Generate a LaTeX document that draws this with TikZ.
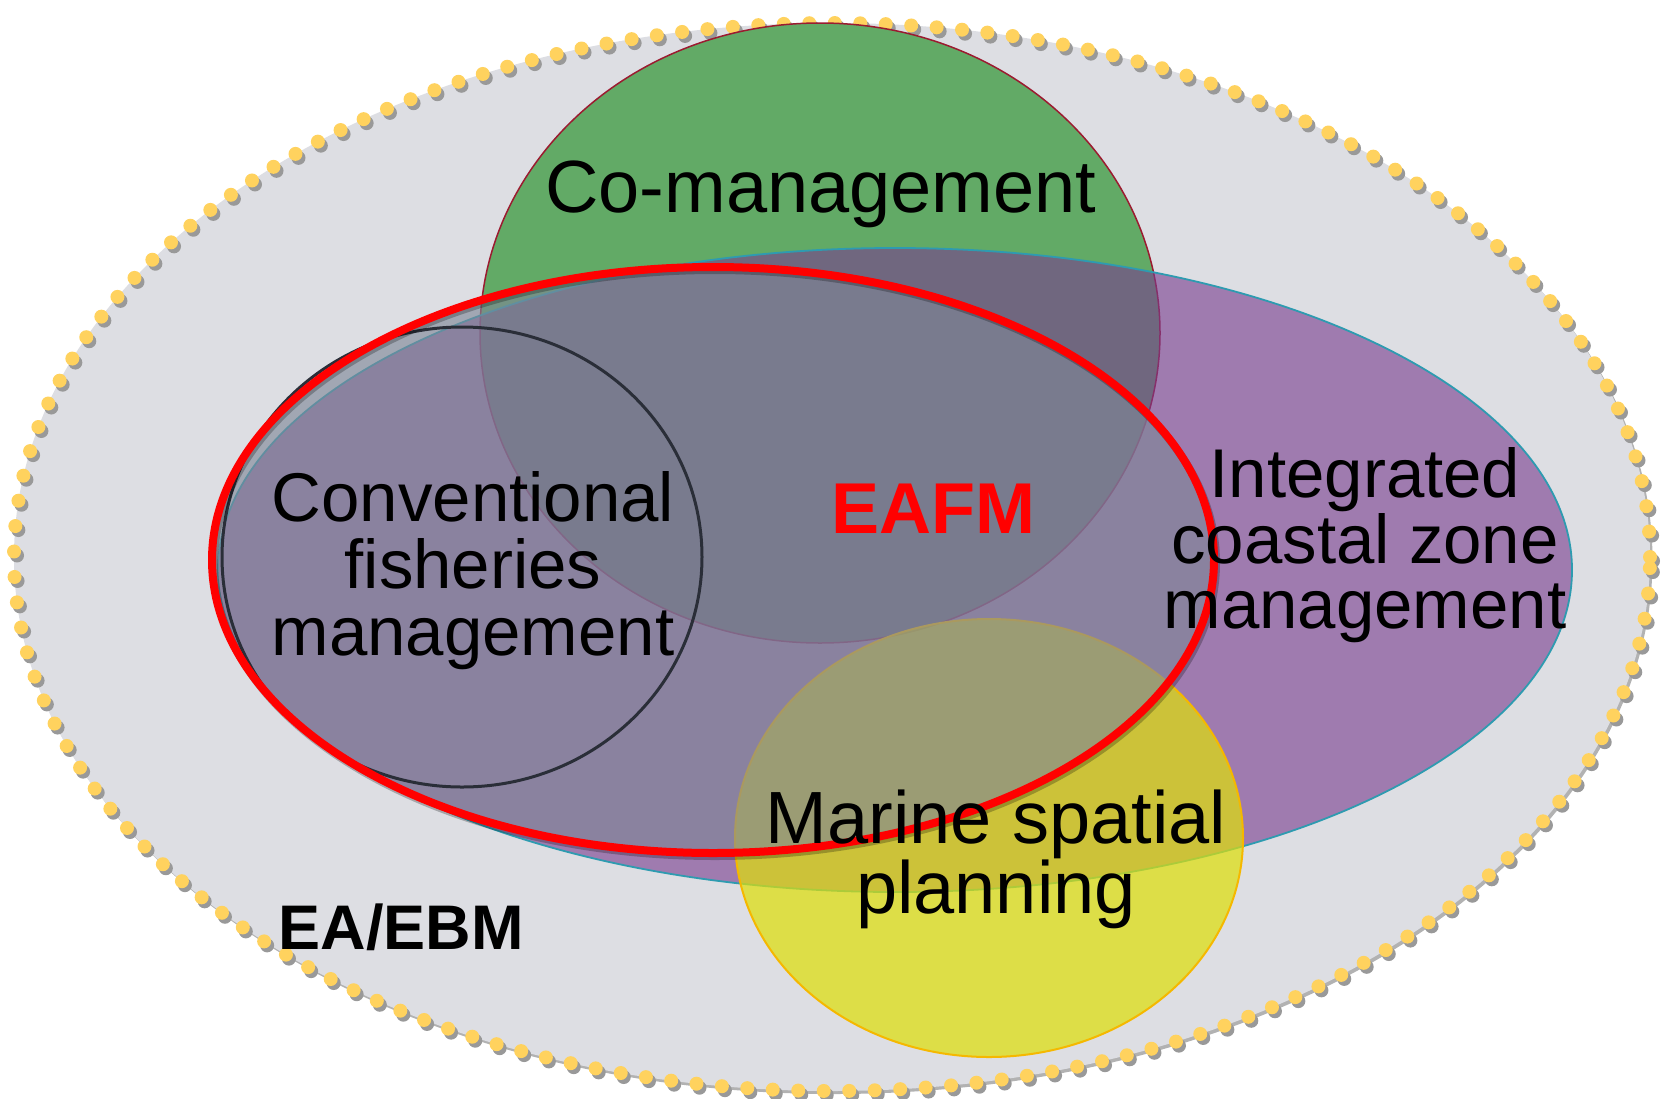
\documentclass[tikz,border=0pt]{standalone}
\usepackage{fontspec}
\setmainfont{Liberation Sans}
\definecolor{bgray}{HTML}{DDDEE3}
\definecolor{dotyel}{HTML}{FFD25E}
\definecolor{cogreen}{HTML}{62AA66}
\definecolor{coborder}{HTML}{9B1B30}
\definecolor{iczmfill}{HTML}{793D8F}
\definecolor{iczmborder}{HTML}{2E9BB0}
\definecolor{mspfill}{HTML}{DEDE0C}
\definecolor{mspborder}{HTML}{F5B800}
\definecolor{eafmfill}{HTML}{7F8797}
\definecolor{cfmborder}{HTML}{2A2E38}
\begin{document}
\begin{tikzpicture}[x=1pt,y=-1pt,
  lblA/.style={font=\fontsize{69}{66}\selectfont, anchor=base, inner sep=0pt, text=black},
  lblB/.style={font=\fontsize{74}{72}\selectfont, anchor=base, inner sep=0pt, text=black},
  dotline/.style={line width=14pt, line cap=round, dash pattern=on 0pt off 25.5pt}]
\useasboundingbox (0,0) rectangle (1665,1098);
% outer EA/EBM area
\fill[black!30] (834.5,560) ellipse [x radius=818pt, y radius=534pt];
\fill[bgray] (832,557) ellipse [x radius=818pt, y radius=534pt];
\draw[black!40, dotline] (835,561) ellipse [x radius=818pt, y radius=534pt];
\draw[dotyel, dotline] (832,557) ellipse [x radius=818pt, y radius=534pt];
% co-management
\fill[cogreen] (820,333) ellipse [x radius=340pt, y radius=310pt];
\draw[coborder, line width=1.5pt] (820,333) ellipse [x radius=340pt, y radius=310pt];
% integrated coastal zone management
\fill[iczmfill, fill opacity=0.61] (895,570) ellipse [x radius=677pt, y radius=322pt];
\draw[iczmborder, line width=1.8pt] (895,570) ellipse [x radius=677pt, y radius=322pt];
% marine spatial planning
\fill[mspfill, fill opacity=0.72] (989,838) ellipse [x radius=254pt, y radius=219pt];
\draw[mspborder, line width=2pt] (989,838) ellipse [x radius=254pt, y radius=219pt];
% EAFM fill
\fill[eafmfill, fill opacity=0.63] (713,560) ellipse [x radius=501pt, y radius=293pt];
% conventional fisheries management
\draw[cfmborder, line width=3pt] (462,557) ellipse [x radius=240pt, y radius=230pt];
% EAFM outline
\draw[black, opacity=0.25, line width=8pt] (715,563) ellipse [x radius=501pt, y radius=293pt];
\draw[red, line width=8pt] (713,560) ellipse [x radius=501pt, y radius=293pt];
% labels
\node[lblB] (co) at (821,212) {Co-management};
\node[lblA] (cfm1) at (473,521) {Conventional};
\node[lblA] (cfm2) at (473,588) {fisheries};
\node[lblA] (cfm3) at (473,655) {management};
\node[lblA] (iczm1) at (1365,497) {Integrated};
\node[lblA] (iczm2) at (1365,563) {coastal zone};
\node[lblA] (iczm3) at (1365,628) {management};
\node[lblB] (msp1) at (996,843) {Marine spatial};
\node[lblB] (msp2) at (996,913) {planning};
\node[font=\fontsize{72}{72}\selectfont\bfseries, anchor=base, inner sep=0pt, text=red] (eafm) at (933,533) {EAFM};
\node[font=\fontsize{63}{63}\selectfont\bfseries, anchor=base, inner sep=0pt, text=black] (ea) at (401,949) {EA/EBM};
\end{tikzpicture}
\end{document}
